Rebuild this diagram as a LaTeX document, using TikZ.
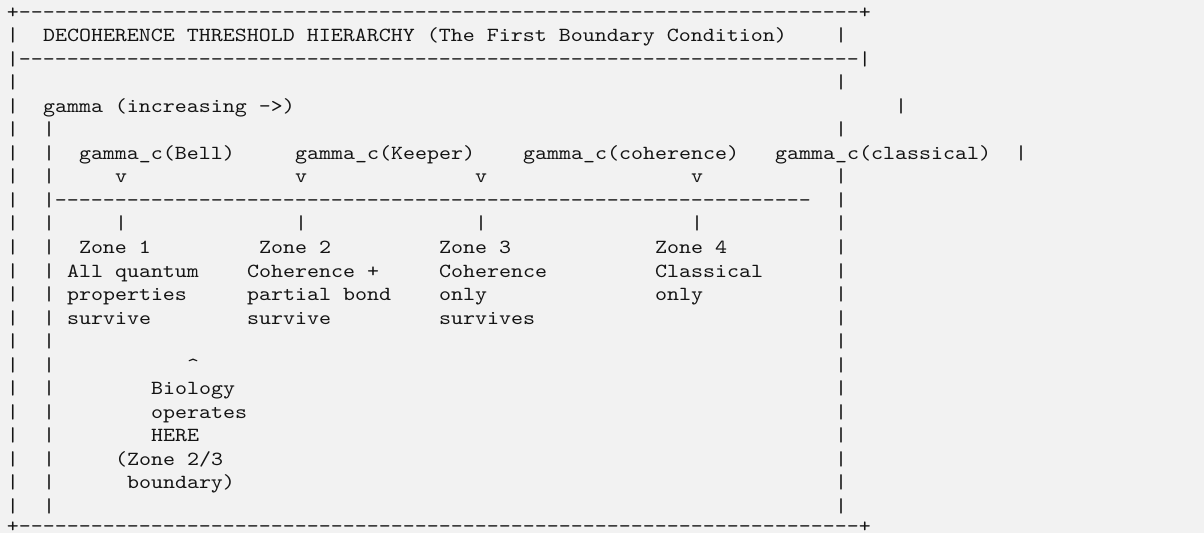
\documentclass[tikz,border=0pt]{standalone}
\usepackage{fontspec}
\setmonofont{lmmono10-regular.otf}[FakeStretch=1.142857]
\definecolor{bg}{RGB}{242,242,242}
\definecolor{ink}{RGB}{20,20,20}
\tikzset{
  txt/.style={anchor=base west, inner sep=0pt, outer sep=0pt, text=ink,
    font=\ttfamily\fontsize{15pt}{18pt}\selectfont},
  lastrow/.style={text depth=0pt, yshift=2.2pt}
}
\newcommand\At[4][]{\node[txt,#1] (r#3c#2) at ({7+12*#2},{18.2+23.53*#3}) {#4};}
\newcommand\Dten{----------}
\begin{document}
\begin{tikzpicture}[x=0.75pt,y=-0.75pt]
\fill[bg] (0,0) rectangle (1204,533);
\useasboundingbox (0,0) rectangle (1204,533);
% borders
\At{0}{0}{+\Dten\Dten\Dten\Dten\Dten\Dten\Dten+}
\At{0}{2}{|\Dten\Dten\Dten\Dten\Dten\Dten\Dten|}
\At[lastrow]{0}{22}{+\Dten\Dten\Dten\Dten\Dten\Dten\Dten+}
\foreach \r in {1,3,4,5,6,7,8,9,10,11,12,13,14,15,16,17,18,19,20,21}{\At{0}{\r}{|}}
\foreach \r in {1,3,5,7,8,9,10,11,12,13,14,15,16,17,18,19,20,21}{\At{69}{\r}{|}}
\foreach \r in {5,6,7,8,9,10,11,12,13,14,15,16,17,18,19,20,21}{\At{3}{\r}{|}}
% title
\At{3}{1}{DECOHERENCE THRESHOLD HIERARCHY (The First Boundary Condition)}
% axis label
\At{3}{4}{gamma (increasing ->)}
\At{74}{4}{|}
% thresholds
\At{6}{6}{gamma\_c(Bell)}
\At{24}{6}{gamma\_c(Keeper)}
\At{43}{6}{gamma\_c(coherence)}
\At{64}{6}{gamma\_c(classical)}
\At{84}{6}{|}
\foreach \c in {9,24,39,57}{\At{\c}{7}{v}}
\At{4}{8}{\Dten\Dten\Dten\Dten\Dten\Dten---}
\foreach \c in {9,24,39,57}{\At{\c}{9}{|}}
% zones
\At{6}{10}{Zone 1}
\At{21}{10}{Zone 2}
\At{36}{10}{Zone 3}
\At{54}{10}{Zone 4}
\At{5}{11}{All quantum}
\At{20}{11}{Coherence +}
\At{36}{11}{Coherence}
\At{54}{11}{Classical}
\At{5}{12}{properties}
\At{20}{12}{partial bond}
\At{36}{12}{only}
\At{54}{12}{only}
\At{5}{13}{survive}
\At{20}{13}{survive}
\At{36}{13}{survives}
% biology marker
\At{15}{15}{\textasciicircum}
\At{12}{16}{Biology}
\At{12}{17}{operates}
\At{12}{18}{HERE}
\At{9}{19}{(Zone 2/3}
\At{10}{20}{boundary)}
\end{tikzpicture}
\end{document}
